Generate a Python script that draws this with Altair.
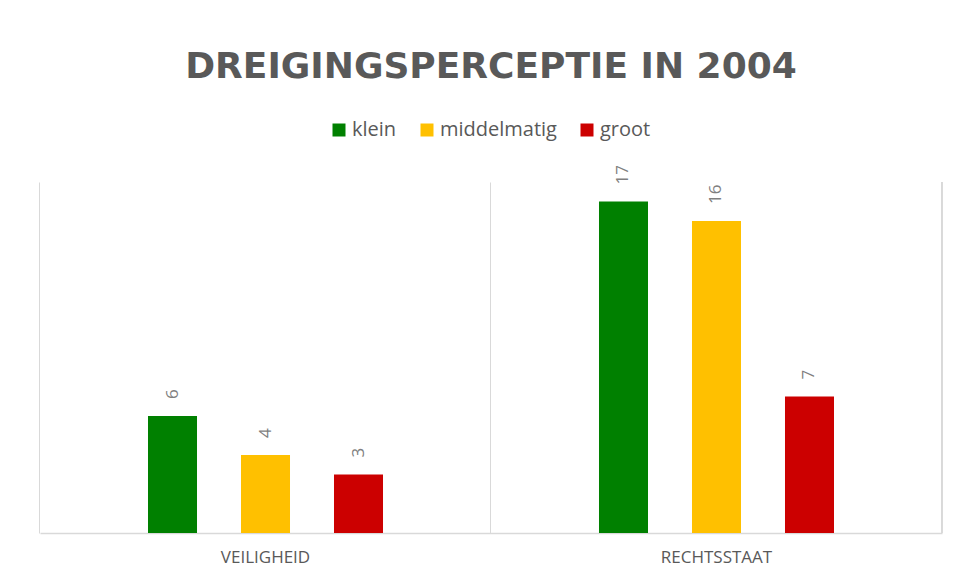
import altair as alt
import pandas as pd

categories = ["VEILIGHEID", "RECHTSSTAAT"]
series = ["klein", "middelmatig", "groot"]
colors = ["#008000", "#FFC000", "#CC0000"]
values = {
    "klein": [6, 17],
    "middelmatig": [4, 16],
    "groot": [3, 7],
}

rows = []
for s in series:
    for c, v in zip(categories, values[s]):
        rows.append({"categorie": c, "reeks": s, "waarde": v})
df = pd.DataFrame(rows)

W, H = 902, 351

base = alt.Chart(df).encode(
    x=alt.X(
        "categorie:N",
        sort=categories,
        scale=alt.Scale(paddingInner=0.2727, paddingOuter=0.13636),
        axis=alt.Axis(
            title=None,
            bandPosition=-0.1875,
            grid=True,
            gridColor="#d9d9d9",
            gridWidth=1,
            ticks=False,
            domainColor="#d9d9d9",
            domainWidth=1.5,
            labelAngle=0,
            labelFont="Open Sans",
            labelFontSize=17,
            labelColor="#595959",
            labelPadding=16,
        ),
    ),
    xOffset=alt.XOffset(
        "reeks:N",
        sort=series,
        scale=alt.Scale(paddingInner=0.473, paddingOuter=0.5),
    ),
    y=alt.Y(
        "waarde:Q",
        scale=alt.Scale(domain=[0, 18], nice=False),
        axis=None,
    ),
)

bars = base.mark_bar().encode(
    color=alt.Color(
        "reeks:N",
        sort=series,
        scale=alt.Scale(domain=series, range=colors),
        legend=alt.Legend(
            title=None,
            orient="none",
            direction="horizontal",
            legendX=289,
            legendY=-62,
            symbolType="square",
            symbolSize=169,
            symbolStrokeWidth=0,
            symbolOpacity=1,
            labelFont="Open Sans",
            labelFontSize=20,
            labelColor="#595959",
            labelOffset=3,
            columnPadding=20,
            labelLimit=300,
        ),
    )
)

labels = base.mark_text(
    angle=270,
    align="left",
    baseline="middle",
    dx=17,
    font="Open Sans",
    fontSize=17,
    color="#7f7f7f",
).encode(text=alt.Text("waarde:Q"))

right_line = alt.Chart(df).mark_rule(color="#d9d9d9", strokeWidth=1).encode(
    x=alt.value(W), y=alt.value(0), y2=alt.value(H)
)

chart = (
    alt.layer(bars, labels, right_line)
    .properties(
        width=W,
        height=H,
        autosize=alt.AutoSizeParams(type="none"),
        padding={"left": 32, "top": 174, "right": 7, "bottom": 40},
        title=alt.Title(
            "DREIGINGSPERCEPTIE IN 2004",
            font="DejaVu Sans",
            fontSize=36,
            fontWeight="bold",
            color="#595959",
            anchor="middle",
            offset=34,
        ),
        background="white",
    )
    .configure_view(stroke=None)
)

chart.save("out.html", embed_options={"renderer": "svg", "actions": False})
